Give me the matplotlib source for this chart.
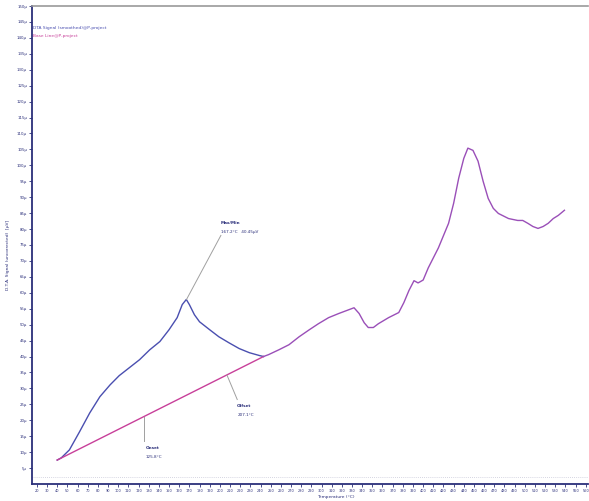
import matplotlib
matplotlib.use("Agg")
import matplotlib.pyplot as plt
import numpy as np

# ---- data ----
temp_signal = [40, 44, 52, 62, 72, 82, 92, 101, 111, 121, 131, 141, 150, 158, 163, 167,
               170, 175, 180, 190, 199, 209, 219, 229, 239, 243]
dta_signal = [7.5, 8.2, 10.7, 16.4, 22.3, 27.4, 31.1, 34.0, 36.5, 39.0, 42.1, 44.7, 48.4,
              52.2, 56.3, 57.9, 56.3, 53.1, 50.9, 48.4, 46.2, 44.3, 42.5, 41.2, 40.3, 40.0]

temp_common = [243, 248, 258, 268, 278, 288, 297, 307, 317, 327, 332, 337, 342, 346, 351,
               356, 366, 376, 381, 386, 391, 395, 400, 405, 415, 425, 430, 435, 440, 444,
               449, 454, 459, 464, 469, 474, 484, 493, 498, 503, 508, 513, 518, 523, 528,
               533, 539]
dta_common = [40.0, 40.6, 42.1, 43.7, 46.2, 48.4, 50.3, 52.2, 53.5, 54.7, 55.3, 53.5, 50.6,
              49.1, 49.1, 50.3, 52.2, 53.8, 56.9, 60.7, 63.8, 63.1, 64.0, 67.8, 74.1, 81.8,
              88.1, 96.0, 102.2, 105.4, 104.7, 101.3, 95.0, 89.6, 86.5, 84.9, 83.3, 82.7,
              82.7, 81.8, 80.8, 80.2, 80.8, 81.8, 83.3, 84.3, 85.9]

baseline_temp = [40, 243]
baseline_val = [7.5, 40.0]

onset_T, onset_V = 125.8, 21.1
offset_T, offset_V = 207.1, 34.1
peak_T, peak_V = 167.2, 57.9

yticks = list(range(5, 151, 5))
xticks = list(range(20, 561, 10))

navy = "#2b2f7a"
blue = "#4a4fb0"
mag = "#c8409a"
purple = "#9a4fb8"

fig = plt.figure(figsize=(5.89, 5.01), dpi=100)
ax = fig.add_axes([0.054, 0.034, 0.944, 0.954])

ax.plot(temp_signal, dta_signal, color=blue, lw=1.0)
ax.plot(baseline_temp, baseline_val, color=mag, lw=1.0)
ax.plot(temp_common, dta_common, color=purple, lw=1.0)

ax.set_xlim(15, 562)
ax.set_ylim(0, 150)

ax.axhline(2.2, color="#c8c8d8", lw=0.6, ls=(0, (1, 1.5)))

ax.spines["right"].set_visible(False)
ax.spines["top"].set_color("#9a9a9a")
ax.spines["top"].set_linewidth(1.2)
for s in ["left", "bottom"]:
    ax.spines[s].set_color(navy)
    ax.spines[s].set_linewidth(1.3)

ax.set_yticks(yticks)
ax.set_yticklabels([f"{v}µ" for v in yticks], fontsize=2.8, color=navy)
ax.set_xticks(xticks)
ax.set_xticklabels([str(v) for v in xticks], fontsize=2.5, color=navy)
ax.tick_params(axis="both", length=2, width=0.6, color=navy, pad=1.5)

ax.set_ylabel("D.T.A. Signal (uncorrected)  [µV]", fontsize=3.2, color=navy, labelpad=6)
ax.yaxis.set_label_coords(-0.04, 0.48)
fig.text(0.57, 0.003, "Temperature (°C)", fontsize=3.2, color=navy, ha="center", va="bottom")

ax.text(0.003, 0.955, "DTA Signal (smoothed)@P-project", transform=ax.transAxes,
        fontsize=3.2, color=blue, va="center")
ax.text(0.003, 0.937, "Base Line@P-project", transform=ax.transAxes,
        fontsize=3.2, color=mag, va="center")

# annotations
ax.plot([peak_T, 201], [peak_V, 78.0], color="#a0a0a0", lw=0.7)
ax.text(201, 81.5, "Max/Min", fontsize=3.0, color=navy, fontweight="bold")
ax.text(201, 78.8, "167.2°C   40.45µV", fontsize=3.0, color=navy)

ax.plot([onset_T, onset_T], [onset_V, 13.5], color="#a0a0a0", lw=0.7)
ax.text(onset_T + 1, 11.0, "Onset", fontsize=3.0, color=navy, fontweight="bold")
ax.text(onset_T + 1, 8.2, "125.8°C", fontsize=3.0, color=navy)

ax.plot([offset_T, offset_T + 10], [offset_V, 26.5], color="#a0a0a0", lw=0.7)
ax.text(offset_T + 10, 24.0, "Offset", fontsize=3.0, color=navy, fontweight="bold")
ax.text(offset_T + 10, 21.3, "207.1°C", fontsize=3.0, color=navy)

fig.savefig("out.png", dpi=100)
